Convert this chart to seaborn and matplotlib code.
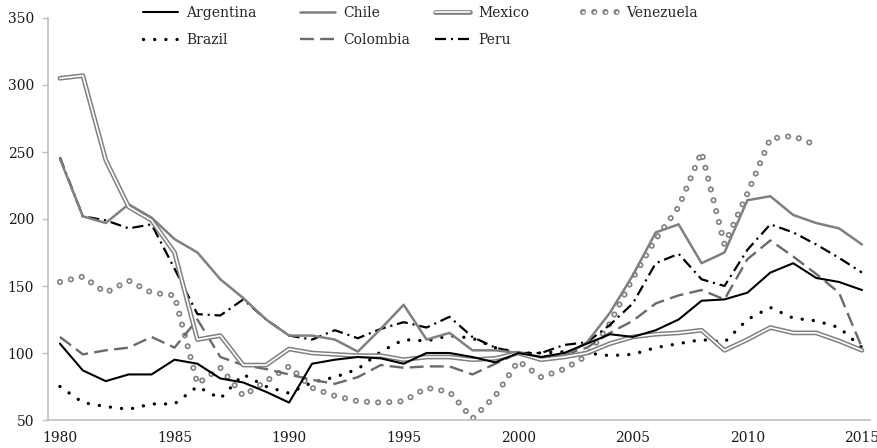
import numpy as np
import pandas as pd
import matplotlib
matplotlib.use("Agg")
import matplotlib.pyplot as plt
import matplotlib.patheffects as pe
import seaborn as sns
from matplotlib.lines import Line2D

nan = np.nan
years = list(range(1980, 2016))
argentina = [107, 87, 79, 84, 84, 95, 92, 81, 78, 71, 63, 92, 95, 97, 96, 92, 100, 100, 97, 93,
             100, 97, 100, 107, 114, 112, 117, 125, 139, 140, 145, 160, 167, 156, 153, 147]
brazil = [75, 63, 60, 58, 62, 62, 75, 66, 84, 75, 70, 78, 82, 88, 101, 110, 109, 113, 111, 104,
          100, 100, 101, 100, 98, 99, 104, 107, 110, 108, 125, 134, 126, 124, 119, 104]
chile = [245, 202, 197, 211, 201, 185, 175, 155, 141, 125, 113, 113, 110, 101, 118, 136, 110, 115, 102, 102,
         100, 96, 98, 108, 130, 158, 190, 196, 167, 175, 214, 217, 203, 197, 193, 181]
colombia = [112, 99, 102, 104, 112, 104, 125, 97, 91, 88, 84, 80, 77, 82, 91, 89, 90, 90, 84, 92,
            100, 97, 99, 104, 115, 124, 137, 143, 147, 140, 170, 184, 172, 159, 145, 104]
mexico = [305, 307, 244, 209, 199, 175, 110, 113, 91, 91, 103, 100, 99, 98, 98, 95, 97, 97, 95, 96,
          100, 95, 97, 100, 107, 112, 114, 115, 117, 102, 110, 119, 115, 115, 109, 102]
peru = [246, 202, 199, 193, 196, 163, 129, 128, 140, 125, 113, 110, 117, 111, 118, 123, 119, 127, 112, 104,
        100, 100, 106, 108, 121, 137, 167, 174, 155, 150, 177, 196, 190, 181, 171, 160]
venezuela = [153, 157, 145, 154, 145, 143, 77, 89, 68, 79, 90, 74, 68, 64, 63, 64, 74, 71, 51, 68,
             94, 82, 88, 98, 122, 156, 185, 209, 250, 181, 219, 260, 262, 255, nan, nan]
yticks = [50, 100, 150, 200, 250, 300, 350]
xticks = [1980, 1985, 1990, 1995, 2000, 2005, 2010, 2015]

sns.set_style("white")
plt.rcParams["font.family"] = ["DejaVu Serif"]
plt.rcParams["lines.scale_dashes"] = False

GRAY = "#808080"
DGRAY = "#6a6a6a"
SPINE = "#bfbfbf"

fig = plt.figure(figsize=(8.78, 4.48), dpi=100)
ax = fig.add_axes([48 / 878, 1 - 420 / 448, (870 - 48) / 878, (420 - 18) / 448])

def draw(vals, **kw):
    sns.lineplot(x=years, y=vals, ax=ax, errorbar=None, legend=False, **kw)

ven_kw = dict(color="white", linewidth=2.0, linestyle=(0, (0.05, 8)), dash_capstyle="round",
              path_effects=[pe.Stroke(linewidth=4.4, foreground=GRAY, capstyle="round"), pe.Normal()])
bra_kw = dict(color="black", linewidth=2.4, linestyle=(0, (0.05, 8)), dash_capstyle="round")
col_kw = dict(color=DGRAY, linewidth=1.7, linestyle=(0, (10, 4.5)))
peru_kw = dict(color="black", linewidth=1.6, linestyle=(0, (8, 3.5, 1.5, 3.5)))
chile_kw = dict(color=GRAY, linewidth=1.8)
arg_kw = dict(color="black", linewidth=1.5)
mex_kw = dict(color="white", linewidth=1.2,
              path_effects=[pe.Stroke(linewidth=3.4, foreground=GRAY), pe.Normal()])

draw(venezuela, **ven_kw)
draw(brazil, **bra_kw)
draw(colombia, **col_kw)
draw(peru, **peru_kw)
draw(chile, **chile_kw)
draw(mexico, **mex_kw)
draw(argentina, **arg_kw)

ax.set_xlim(1979.48, 2015.35)
ax.set_ylim(50, 350)
ax.set_yticks(yticks)
ax.set_xticks(xticks)
ax.set_xlabel("")
ax.set_ylabel("")
for s in ["top", "right"]:
    ax.spines[s].set_visible(False)
for s in ["left", "bottom"]:
    ax.spines[s].set_color(SPINE)
    ax.spines[s].set_linewidth(1.2)
ax.tick_params(axis="y", left=True, length=4, width=1, color=SPINE, pad=6, labelsize=10, labelcolor="#1a1a1a")
ax.tick_params(axis="x", bottom=False, length=0, pad=8, labelsize=10, labelcolor="#1a1a1a")

def L(**kw):
    return Line2D([], [], **kw)

columns = [
    (143, [L(**arg_kw), L(**bra_kw)], ["Argentina", "Brazil"]),
    (300, [L(**chile_kw), L(**col_kw)], ["Chile", "Colombia"]),
    (435, [L(**mex_kw), L(**peru_kw)], ["Mexico", "Peru"]),
    (583, [L(**ven_kw)], ["Venezuela"]),
]
for x0, hs, labs in columns:
    fig.legend(hs, labs, loc="upper left", bbox_to_anchor=(x0 / 878, 1 - 6 / 448),
               frameon=False, borderpad=0, borderaxespad=0, handlelength=2.5,
               handletextpad=0.6, labelspacing=0.95, fontsize=10)

fig.savefig("out.png", dpi=100)
